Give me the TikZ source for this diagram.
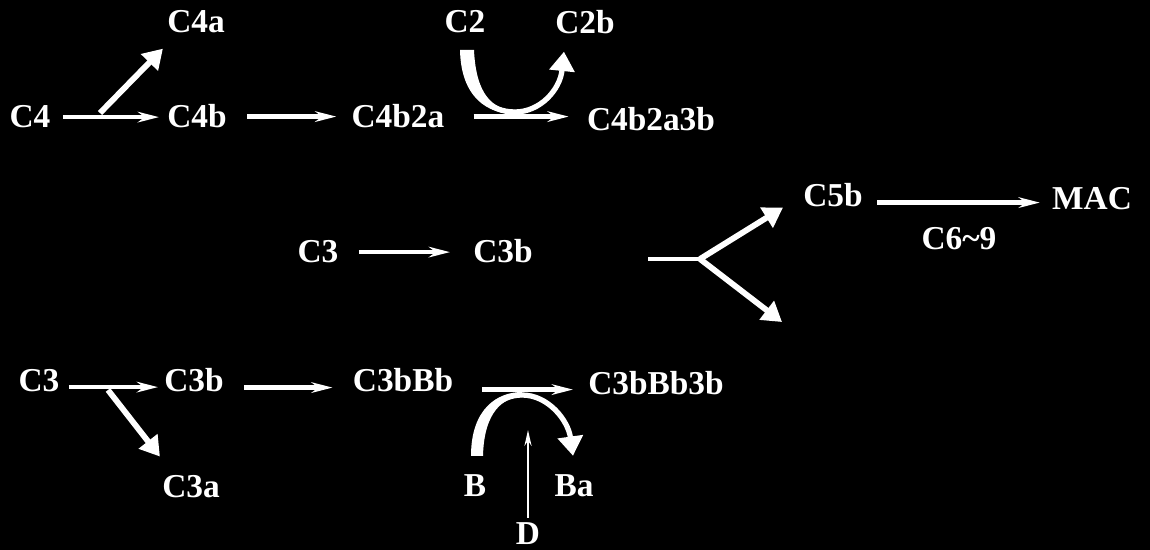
\documentclass[tikz,border=0pt]{standalone}
\usepackage{fontspec}
\setmainfont{Liberation Serif}
\usetikzlibrary{arrows.meta,calc}
\begin{document}
\begin{tikzpicture}[x=0.02cm,y=-0.02cm,
  lbl/.style={text=white,font=\fontsize{19}{19}\selectfont\bfseries,inner sep=0pt,anchor=base},
  arr/.style={draw=white,line width=2.5pt,-{Stealth[length=12pt,width=6pt]}},
  thinarr/.style={draw=white,line width=1.4pt,-{Stealth[length=9pt,width=4pt]}},
  bigarr/.style={draw=white,line width=3.3pt,-{Triangle[length=11pt,width=13pt]}},
  forkline/.style={draw=white,line width=2.8pt},
  curvearr/.style={draw=white,line width=3pt,-{Triangle[length=11pt,width=14pt]}},
  taper/.style={fill=white}]
\fill[black] (0,0) rectangle (1150,550);
\useasboundingbox (0,0) rectangle (1150,550);
% row 1
\node[lbl] (c4) at (30,128) {C4};
\node[lbl] (c4a) at (196,33) {C4a};
\node[lbl] (c4b) at (197,128) {C4b};
\node[lbl] (c4b2a) at (398,128) {C4b2a};
\node[lbl] (c4b2a3b) at (651,131) {C4b2a3b};
\node[lbl] (c2) at (465,33) {C2};
\node[lbl] (c2b) at (585,34) {C2b};
% row 2
\node[lbl] (c3m) at (318,263) {C3};
\node[lbl] (c3bm) at (503,263) {C3b};
\node[lbl] (c5b) at (833,207) {C5b};
\node[lbl] (mac) at (1092,210) {MAC};
\node[lbl] (c69) at (959,250) {C6\textasciitilde9};
% row 3
\node[lbl] (c3) at (39,392) {C3};
\node[lbl] (c3b) at (194,392) {C3b};
\node[lbl] (c3bbb) at (403,392) {C3bBb};
\node[lbl] (c3bbb3b) at (656,395) {C3bBb3b};
\node[lbl] (c3a) at (191,498) {C3a};
\node[lbl] (b) at (475,497) {B};
\node[lbl] (ba) at (574,497) {Ba};
\node[lbl] (d) at (528,544) {D};
% row 1 arrows
\draw[arr] ($(c4.east)+(12,0)$) -- ($(c4.east -| c4b.west)+(-8,0)$);
\coordinate (j1) at (100,113);
\draw[bigarr] (j1) -- ($(c4a.south west)+(-4,15)$);
\draw[arr] ($(c4b.east)+(20,0)$) -- ($(c4b.east -| c4b2a.west)+(-15,0)$);
\draw[arr] ($(c4b2a.east)+(29,0)$) -- ($(c4b2a.east -| c4b2a3b.west)+(-18,0)$);
\draw[curvearr] ($(c2.south)+(2,17)$) .. controls (468,95) and (490,112) .. (515,112)
  .. controls (540,112) and (560,90) .. ($(c2b.south west)+(9,17)$);
\fill[taper] (460,50) .. controls (461,98) and (488,114) .. (515,114) -- (515,110)
  .. controls (493,110) and (476,95) .. (474,50) -- cycle;
% row 2 arrows
\draw[arr] ($(c3m.east)+(20,0)$) -- ($(c3m.east -| c3bm.west)+(-23,0)$);
\coordinate (f0) at (648,259);
\coordinate (fk) at (700,259);
\coordinate (f2) at (782,322);
\draw[forkline] (f0) -- (fk);
\draw[bigarr] (fk) -- ($(c5b.west)+(-20,12)$);
\draw[bigarr] (fk) -- (f2);
\draw[arr] ($(c5b.east)+(14,7)$) -- ($(c5b.east -| mac.west)+(-12,7)$);
% row 3 arrows
\draw[arr] ($(c3.east)+(9,6)$) -- ($(c3.east -| c3b.west)+(-6,6)$);
\coordinate (j2) at (108,390);
\draw[bigarr] (j2) -- ($(c3a.north west)+(-2,-19)$);
\draw[arr] ($(c3b.east)+(20,7)$) -- ($(c3b.east -| c3bbb.west)+(-20,7)$);
\draw[arr] ($(c3bbb.east)+(29,9)$) -- ($(c3bbb.east -| c3bbb3b.west)+(-15,9)$);
\draw[curvearr] ($(b.north)+(2,-19)$) .. controls (477,412) and (500,395) .. (522,395)
  .. controls (548,395) and (568,420) .. ($(ba.north)+(-1,-19)$);
\fill[taper] (471,456) .. controls (471,408) and (498,392) .. (522,392) -- (522,397)
  .. controls (503,397) and (484,412) .. (483,456) -- cycle;
\coordinate (dtip) at (528,430);
\draw[thinarr] ($(d.north)+(0,-4)$) -- (dtip);
\end{tikzpicture}
\end{document}
